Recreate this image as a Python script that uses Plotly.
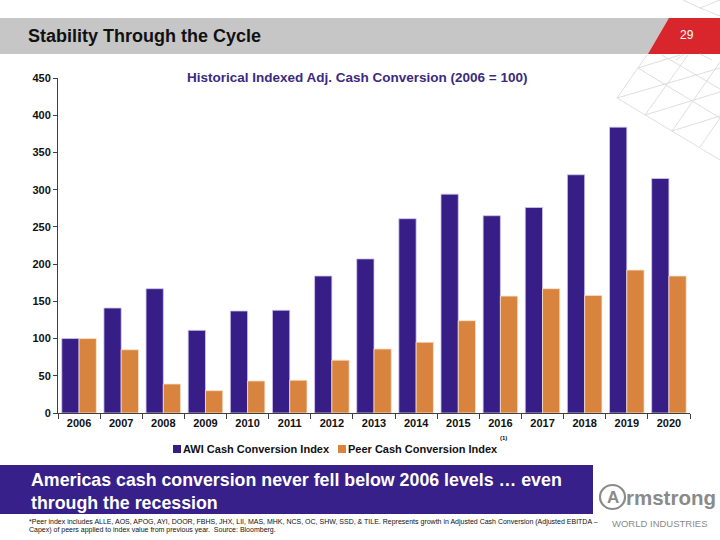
import plotly.graph_objects as go

# ---------------- data ----------------
years = ["2006", "2007", "2008", "2009", "2010", "2011", "2012", "2013",
         "2014", "2015", "2016", "2017", "2018", "2019", "2020"]
awi_index = [100, 141, 167, 111, 137, 138, 184, 207, 261, 294, 265, 276, 320, 384, 315]
peer_index = [100, 85, 39, 30, 43, 44, 71, 86, 95, 124, 157, 167, 158, 192, 184]
y_ticks = [0, 50, 100, 150, 200, 250, 300, 350, 400, 450]

series_names = ["AWI Cash Conversion Index", "Peer Cash Conversion Index"]
chart_title = "Historical Indexed Adj. Cash Conversion (2006 = 100)"
slide_title = "Stability Through the Cycle"
page_number = "29"
callout = "Americas cash conversion never fell below 2006 levels … even<br>through the recession"
footnote1 = ("*Peer index includes ALLE, AOS, APOG, AYI, DOOR, FBHS, JHX, LII, MAS, MHK, NCS, OC, SHW, SSD, & TILE. "
             "Represents growth in Adjusted Cash Conversion (Adjusted EBITDA –")
footnote2 = "Capex) of peers applied to index value from previous year.  Source: Bloomberg."

# ---------------- style ----------------
W, H = 720, 540
PURPLE = "#371d86"
ORANGE = "#d8843f"
GRAY_BAND = "#c6c6c6"
RED = "#d9262c"
FONT = "Liberation Sans, Arial, sans-serif"


def px(x):
    return x / W


def py(y):
    return 1 - y / H


fig = go.Figure()
fig.add_bar(x=years, y=awi_index, name=series_names[0],
            marker=dict(color=PURPLE, line=dict(color="#cfc6ec", width=0.8)))
fig.add_bar(x=years, y=peer_index, name=series_names[1],
            marker=dict(color=ORANGE, line=dict(color="#f6e2cf", width=0.8)))

shapes = []
# header band
shapes.append(dict(type="rect", xref="paper", yref="paper", x0=px(0), x1=px(720), y0=py(54), y1=py(18),
                   fillcolor=GRAY_BAND, line=dict(width=0), layer="below"))
shapes.append(dict(type="path", xref="paper", yref="paper",
                   path=f"M {px(669)},{py(18)} L {px(720)},{py(18)} L {px(720)},{py(54)} L {px(648)},{py(54)} Z",
                   fillcolor=RED, line=dict(width=0), layer="below"))
# decorative lattice lines
lattice = [
    ((617, 98), (720, 160)), ((638, 68), (720, 118)), ((662, 55), (720, 89)),
    ((617, 98), (720, 68)), ((645, 115), (720, 92)), ((672, 131), (720, 116)), ((638, 68), (680, 55)),
    ((617, 98), (647, 55)), ((645, 115), (688, 55)), ((672, 131), (720, 62)), ((700, 147), (720, 118)),
    ((683, 0), (700, 8)), ((700, 8), (720, 0)), ((700, 8), (720, 16)), ((676, 60), (684, 54)), ((700, 54), (712, 60)),
]
for (a, b) in lattice:
    shapes.append(dict(type="line", xref="paper", yref="paper", x0=px(a[0]), y0=py(a[1]), x1=px(b[0]), y1=py(b[1]),
                       line=dict(color="#dedede", width=1), layer="below"))
# legend squares
shapes.append(dict(type="rect", xref="paper", yref="paper", x0=px(173), x1=px(181), y0=py(453), y1=py(445),
                   fillcolor=PURPLE, line=dict(width=0)))
shapes.append(dict(type="rect", xref="paper", yref="paper", x0=px(338), x1=px(346), y0=py(453), y1=py(445),
                   fillcolor=ORANGE, line=dict(width=0)))
# callout box
shapes.append(dict(type="rect", xref="paper", yref="paper", x0=px(0), x1=px(593), y0=py(514), y1=py(465),
                   fillcolor="#38208a", line=dict(width=0)))
# logo circle
shapes.append(dict(type="circle", xref="paper", yref="paper", x0=px(600), x1=px(625), y0=py(509), y1=py(485),
                   line=dict(color="#8a8a8a", width=2.2)))

annotations = [
    dict(text=f"<b>{slide_title}</b>", x=px(26), y=py(36), xanchor="left", yanchor="middle",
         font=dict(family=FONT, size=18, color="#111111")),
    dict(text=page_number, x=px(687), y=py(35), xanchor="center", yanchor="middle",
         font=dict(family=FONT, size=12, color="white")),
    dict(text=f"<b>{chart_title}</b>", x=px(357), y=py(78), xanchor="center", yanchor="middle",
         font=dict(family=FONT, size=13.5, color="#3b2a80")),
    dict(text=f"<b>{series_names[0]}</b>", x=px(181), y=py(449), xanchor="left", yanchor="middle",
         font=dict(family=FONT, size=11, color="#111111")),
    dict(text=f"<b>{series_names[1]}</b>", x=px(346), y=py(449), xanchor="left", yanchor="middle",
         font=dict(family=FONT, size=11, color="#111111")),
    dict(text="<b>(1)</b>", x=px(498), y=py(438), xanchor="left", yanchor="middle",
         font=dict(family=FONT, size=6, color="#111111")),
    dict(text=f"<b>{callout}</b>", x=px(29), y=py(491), xanchor="left", yanchor="middle", align="left",
         font=dict(family=FONT, size=17.8, color="white")),
    dict(text=footnote1, x=px(27), y=py(522), xanchor="left", yanchor="middle",
         font=dict(family=FONT, size=7, color="#111111")),
    dict(text=footnote2, x=px(27), y=py(530), xanchor="left", yanchor="middle",
         font=dict(family=FONT, size=7, color="#111111")),
    dict(text="<b>rmstrong</b>", x=px(624), y=py(497), xanchor="left", yanchor="middle",
         font=dict(family=FONT, size=20.5, color="#8a8a8a")),
    dict(text="<b>A</b>", x=px(612.5), y=py(497), xanchor="center", yanchor="middle",
         font=dict(family=FONT, size=17, color="#8a8a8a")),
    dict(text="WORLD INDUSTRIES", x=px(660), y=py(523), xanchor="center", yanchor="middle",
         font=dict(family=FONT, size=9.5, color="#8a8a8a")),
]
for a in annotations:
    a.update(xref="paper", yref="paper", showarrow=False)

fig.update_layout(
    width=W, height=H, autosize=False,
    margin=dict(l=0, r=0, t=0, b=0, pad=0),
    paper_bgcolor="white", plot_bgcolor="rgba(0,0,0,0)",
    barmode="group", bargap=0.18, bargroupgap=0,
    showlegend=False,
    shapes=shapes, annotations=annotations,
    xaxis=dict(domain=[px(58), px(690)], type="category", showline=True, linecolor="#404040", linewidth=1,
               ticks="outside", tickson="boundaries", ticklen=5, tickcolor="#404040",
               tickfont=dict(family=FONT, size=11, color="#111111", weight="bold"),
               showgrid=False, zeroline=False, automargin=False, fixedrange=True),
    yaxis=dict(domain=[py(413), py(78)], range=[0, 450], tickvals=y_ticks, showline=True,
               linecolor="#404040", linewidth=1, ticks="outside", ticklen=4, tickcolor="#404040",
               tickfont=dict(family=FONT, size=11, color="#111111", weight="bold"),
               showgrid=False, zeroline=False, automargin=False, fixedrange=True),
)

fig.write_html("out.html")
